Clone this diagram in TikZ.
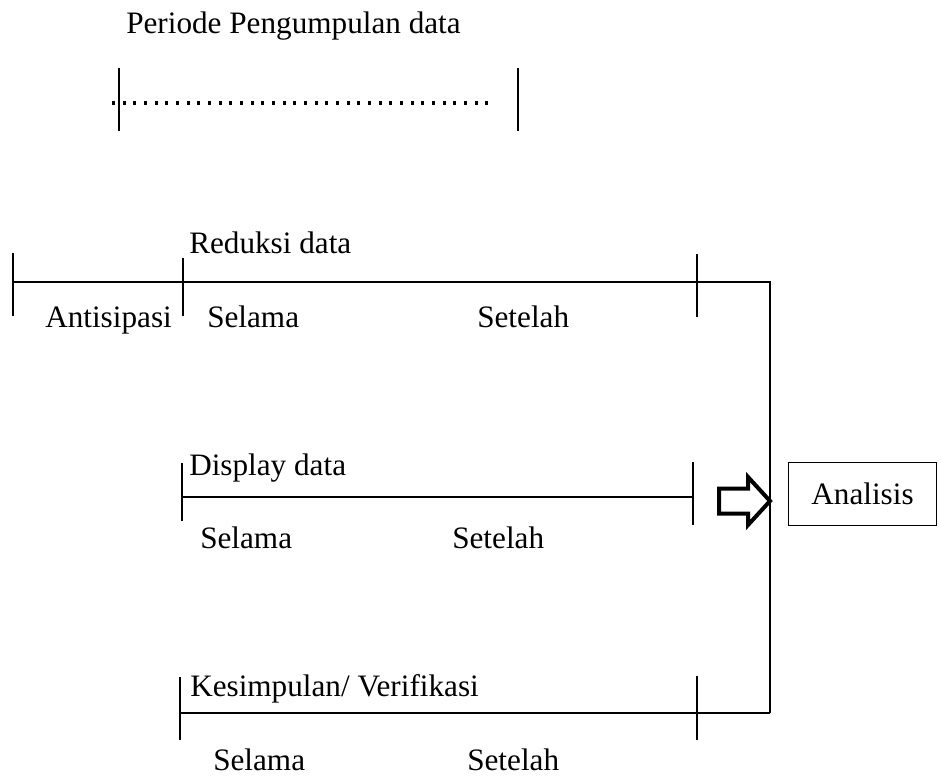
\documentclass[tikz,border=0pt]{standalone}
\usepackage{fontspec}
\setmainfont{Liberation Serif}
\begin{document}
\begin{tikzpicture}[x=0.75pt,y=-0.75pt,
  lbl/.style={anchor=base west,inner sep=0pt,font=\fontsize{23.4}{28}\selectfont},
  ln/.style={line width=1.5pt},
  tk/.style={line width=1.5pt},
  dotline/.style={line width=2.3pt,dash pattern=on 2.3pt off 5.7pt,line cap=butt},
  boxnode/.style={draw,line width=1pt,minimum width=111pt,minimum height=47pt,inner sep=0pt,font=\fontsize{23.4}{28}\selectfont},
  hollow/.style={draw,line width=3pt,line join=miter,fill=white}]
\useasboundingbox (0,0) rectangle (941,776);

% top: periode
\node[lbl] (periode) at (126,33) {Periode Pengumpulan data};
\coordinate (pt1) at (119,68); \coordinate (pb1) at (119,131);
\coordinate (pt2) at (518,68); \coordinate (pb2) at (518,131);
\coordinate (ds) at (112,103); \coordinate (de) at (490,103);
\draw[tk] (pt1) -- (pb1);
\draw[tk] (pt2) -- (pb2);
\draw[dotline] (ds) -- (de);

% Reduksi data
\node[lbl] (reduksi) at (189,253) {Reduksi data};
\coordinate (r0) at (13,282); \coordinate (r1) at (183,282); \coordinate (r2) at (697,282);
\coordinate (cTop) at (770,282); \coordinate (cBot) at (770,713);
\coordinate (rt0a) at (13,253); \coordinate (rt0b) at (13,316);
\coordinate (rt1a) at (183,258); \coordinate (rt1b) at (183,316);
\coordinate (rt2a) at (697,254); \coordinate (rt2b) at (697,317);
\draw[ln,line join=miter] (r0) -- (cTop) -- (cBot);
\draw[tk] (rt0a) -- (rt0b);
\draw[tk] (rt1a) -- (rt1b);
\draw[tk] (rt2a) -- (rt2b);
\node[lbl] (antisipasi) at (45,327) {Antisipasi};
\node[lbl] (rselama) at (207,327) {Selama};
\node[lbl] (rsetelah) at (477,327) {Setelah};

% Display data
\node[lbl] (display) at (189,475) {Display data};
\coordinate (d0) at (182,497); \coordinate (d1) at (693,497);
\coordinate (dt0a) at (182,463); \coordinate (dt0b) at (182,521);
\coordinate (dt1a) at (693,462); \coordinate (dt1b) at (693,525);
\draw[ln] (d0) -- (d1);
\draw[tk] (dt0a) -- (dt0b);
\draw[tk] (dt1a) -- (dt1b);
\node[lbl] (dselama) at (200,548) {Selama};
\node[lbl] (dsetelah) at (452,548) {Setelah};

% Kesimpulan
\node[lbl] (kesimpulan) at (190,696) {Kesimpulan/ Verifikasi};
\coordinate (k0) at (180,713);
\coordinate (kt0a) at (180,677); \coordinate (kt0b) at (180,740);
\coordinate (kt1a) at (697,676); \coordinate (kt1b) at (697,740);
\draw[ln,line join=miter] (k0) -- (cBot);
\draw[tk] (kt0a) -- (kt0b);
\draw[tk] (kt1a) -- (kt1b);
\node[lbl] (kselama) at (213,770) {Selama};
\node[lbl] (ksetelah) at (467,770) {Setelah};

% arrow and Analisis
\draw[hollow] (719,488.5) -- (748,488.5) -- (748,477) -- (770,501) -- (748,525) -- (748,513.5) -- (719,513.5) -- cycle;
\node[boxnode] (analisis) at (862.5,494) {Analisis};
\end{tikzpicture}
\end{document}
